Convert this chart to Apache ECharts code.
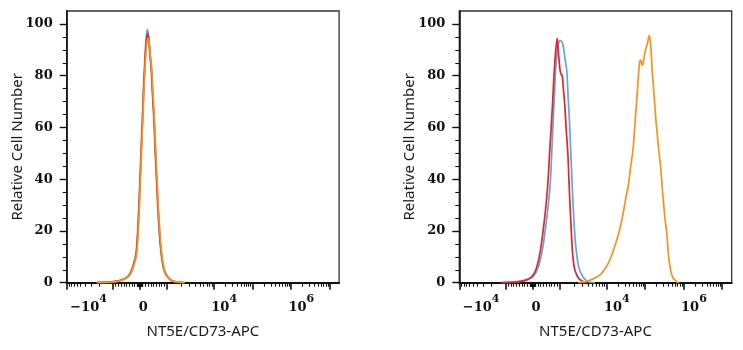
<!DOCTYPE html>
<html>
<head>
<meta charset="utf-8">
<script src="https://cdn.jsdelivr.net/npm/echarts@6/dist/echarts.min.js"></script>
<style>
  html, body { margin: 0; padding: 0; background: #fff; }
  #chart { width: 743px; height: 350px; }
</style>
</head>
<body>
<div id="chart"></div>
<script>
// Biexponential display axis, expressed in display channels (0..1024)
const channelMax = 1024;
const decadeValues = [-1e4, -1e3, 0, 1e3, 1e4, 1e5, 1e6, 1e7];
const decadeChannels = [0, 174, 275.5, 377, 554, 698, 843, 988];
const tickLabels = ['−10|4', '0', '10|4', '10|6'];
const tickLabelChannels = [82, 288, 592, 882];
const yMajor = [0, 20, 40, 60, 80, 100];
const yMinor = [5, 10, 15, 25, 30, 35, 45, 50, 55, 65, 70, 75, 85, 90, 95];
const yMax = 105;

const axisTitleX = 'NT5E/CD73-APC';
const axisTitleY = 'Relative Cell Number';

// Histograms: [channel, relative count]
// Panel A
const aBlue = [[112,0],[158,0.2],[191,0.6],[213,1.3],[230,2.5],[243,4.8],[253,8],[261,12],[268,23],[274,37],[279,50],[284,63],[288,74],[292,83],[296,91],[300,96],[304,97.8],[308,95],[313,88],[318,82],[323,72],[328,62],[333,49],[339,36],[346,22],[355,11],[363,5.8],[372,3.2],[380,2.1],[393,0.8],[408,0.3],[424,0.1],[440,0]];
const aRed = [[113,0],[159,0.2],[192,0.6],[214,1.3],[231,2.4],[244,4.6],[254,7.8],[262,11.5],[269,22.5],[275,37],[280,50],[285,63],[289,73.5],[293,82.5],[297,90],[301,94.5],[305,96.3],[309,93.5],[314,87.5],[319,81.5],[324,71],[329,62.5],[334,49.5],[340,36.5],[347,22.5],[356,11.2],[364,5.9],[373,3.4],[381,2.1],[394,0.9],[409,0.3],[425,0.1],[442,0]];
const aOrange = [[114,0],[160,0.15],[193,0.5],[215,1.2],[232,2.3],[245,4.5],[255,7.5],[263,11.3],[270,22],[276,37],[281,50],[286,62.7],[290,73],[294,82],[298,89],[302,93],[306,94.5],[310,92.5],[315,87],[320,82],[325,72],[330,62.7],[335,50],[341,37],[348,23],[357,11.3],[365,6],[373,3.5],[382,2],[395,0.9],[410,0.4],[426,0.15],[444,0]];

// Panel B
const bBlue = [[159,0],[200,0.15],[230,0.5],[255,1.1],[277,2.3],[295,5.5],[310,11.3],[320,18],[330,26],[341,37],[347,49],[353,62.7],[358,73],[362,82],[367,88],[372,92],[376,93.3],[379,93.6],[383,93.5],[388,92.5],[393,90],[398,86],[404,82],[409,72],[414,62.7],[418,53],[422,43.4],[426,34],[431,24],[436,16],[441,11.3],[447,7],[453,4.8],[460,3.2],[470,1.6],[485,0.4],[498,0.1],[510,0]];
const bRed = [[159,0],[200,0.2],[228,0.5],[250,1],[272,2.3],[288,5],[303,11.3],[315,20],[324,28],[332,37],[340,51],[347,62.7],[352,72],[357,82],[362,89],[366,93],[368,94.3],[371,91],[375,86],[379,82],[383,80.5],[387,80],[392,74],[397,68],[402,59],[408,50],[412,40],[416,30.6],[421,20],[426,11.3],[432,6],[439,3.6],[450,1.5],[460,0.8],[470,0.3],[479,0]];
const bOrange = [[447,0],[470,0.3],[491,1],[510,1.8],[529,3],[545,5],[560,7.5],[576,11.5],[592,16.5],[604,21],[616,26.7],[623,31],[629,34.4],[636,38],[642,43],[648,47.5],[654,52.4],[660,61],[667,70.4],[672,78],[677,84.6],[682,86],[686,84.5],[689,84],[693,86],[698,89],[703,91],[707,92.3],[711,94.5],[714,95.5],[717,94],[721,90],[725,82],[729,76.9],[734,70],[739,63],[744,57.6],[750,51],[757,44.7],[762,38],[767,31.9],[773,25],[780,19],[786,11],[792,6.2],[799,3],[805,1.6],[811,1],[818,0.3],[826,0]];

const colors = { blue: '#5ea9da', red: '#e8212b', orange: '#f7921d' };

// Minor tick channels derived from the decade layout
function minorChannels() {
  const out = [];
  const lg = Math.log10;
  // -1e4 .. -1e3 (log)
  for (let m = 2; m <= 9; m++) out.push(decadeChannels[1] - (decadeChannels[1] - decadeChannels[0]) * lg(m));
  // linear region -1e3 .. 1e3
  const zero = decadeChannels[2];
  const perUnit = (decadeChannels[3] - decadeChannels[2]) / 1000;
  for (let v = 100; v <= 900; v += 100) { out.push(zero + v * perUnit); out.push(zero - v * perUnit); }
  for (let v = 10; v <= 90; v += 10) { out.push(zero + v * perUnit); out.push(zero - v * perUnit); }
  // positive log decades
  for (let k = 3; k < decadeChannels.length; k++) {
    const a = decadeChannels[k];
    const span = k + 1 < decadeChannels.length ? decadeChannels[k + 1] - a : 145;
    for (let m = 2; m <= 9; m++) {
      const c = a + span * lg(m);
      if (c < channelMax) out.push(c);
    }
  }
  return out.sort((p, q) => p - q);
}
const xMinor = minorChannels();

const valueFont = { fontFamily: 'DejaVu Serif', fontWeight: 'bold', color: '#111' };
const titleFont = { fontFamily: 'Noto Sans', fontSize: 15, color: '#1a1a1a' };

function xLabel(v) {
  const i = tickLabelChannels.indexOf(v);
  if (i < 0) return '';
  const parts = tickLabels[i].split('|');
  return parts.length > 1 ? '{b|' + parts[0] + '}{s|' + parts[1] + '}' : '{b|' + parts[0] + '}';
}

function xAxes(gridIndex) {
  return [
    {
      gridIndex, type: 'value', position: 'bottom', min: 0, max: channelMax,
      name: axisTitleX, nameLocation: 'middle', nameGap: 42, nameMoveOverlap: false,
      nameTextStyle: titleFont,
      axisLine: { show: true, onZero: false, lineStyle: { color: '#111', width: 2 } },
      axisTick: { show: true, customValues: decadeChannels, length: 7, lineStyle: { color: '#111', width: 1.6 } },
      axisLabel: {
        show: true, customValues: tickLabelChannels, margin: 11,
        formatter: xLabel,
        rich: {
          b: Object.assign({ fontSize: 13, lineHeight: 20, verticalAlign: 'bottom' }, valueFont),
          s: Object.assign({ fontSize: 11, lineHeight: 20, verticalAlign: 'top' }, valueFont)
        }
      },
      splitLine: { show: false }
    },
    {
      gridIndex, type: 'value', position: 'bottom', min: 0, max: channelMax,
      axisLine: { show: false },
      axisTick: { show: true, customValues: xMinor, length: 4, lineStyle: { color: '#111', width: 1.1 } },
      axisLabel: { show: false },
      splitLine: { show: false }
    }
  ];
}

function yAxes(gridIndex, gap) {
  return [
    {
      gridIndex, type: 'value', position: 'left', min: 0, max: yMax,
      name: axisTitleY, nameLocation: 'middle', nameGap: gap, nameMoveOverlap: false,
      nameTextStyle: titleFont,
      axisLine: { show: true, onZero: false, lineStyle: { color: '#111', width: 1.6 } },
      axisTick: { show: true, customValues: yMajor, length: 7, lineStyle: { color: '#111', width: 1.4 } },
      axisLabel: Object.assign({ show: true, customValues: yMajor, fontSize: 13, margin: 14 }, valueFont),
      splitLine: { show: false }
    },
    {
      gridIndex, type: 'value', position: 'left', min: 0, max: yMax,
      axisLine: { show: false },
      axisTick: { show: true, customValues: yMinor, length: 4, lineStyle: { color: '#111', width: 1.1 } },
      axisLabel: { show: false },
      splitLine: { show: false }
    }
  ];
}

function hist(data, color, xi, yi) {
  return {
    type: 'line', data, xAxisIndex: xi, yAxisIndex: yi,
    showSymbol: false, smooth: 0.35, clip: true, silent: true,
    lineStyle: { color, width: 1.7 }
  };
}

const chart = echarts.init(document.getElementById('chart'), null, { renderer: 'canvas' });
chart.setOption({
  animation: false,
  backgroundColor: '#fff',
  grid: [
    { left: 66.7, top: 11, width: 272.4, height: 271.7, show: true, borderColor: '#333', borderWidth: 1.3 },
    { left: 459.3, top: 11, width: 272.4, height: 271.7, show: true, borderColor: '#333', borderWidth: 1.3 }
  ],
  xAxis: xAxes(0).concat(xAxes(1)),
  yAxis: yAxes(0, 41).concat(yAxes(1, 42)),
  series: [
    hist(aBlue, colors.blue, 0, 0),
    hist(aRed, colors.red, 0, 0),
    hist(aOrange, colors.orange, 0, 0),
    hist(bBlue, colors.blue, 2, 2),
    hist(bRed, colors.red, 2, 2),
    hist(bOrange, colors.orange, 2, 2)
  ]
});
</script>
</body>
</html>
